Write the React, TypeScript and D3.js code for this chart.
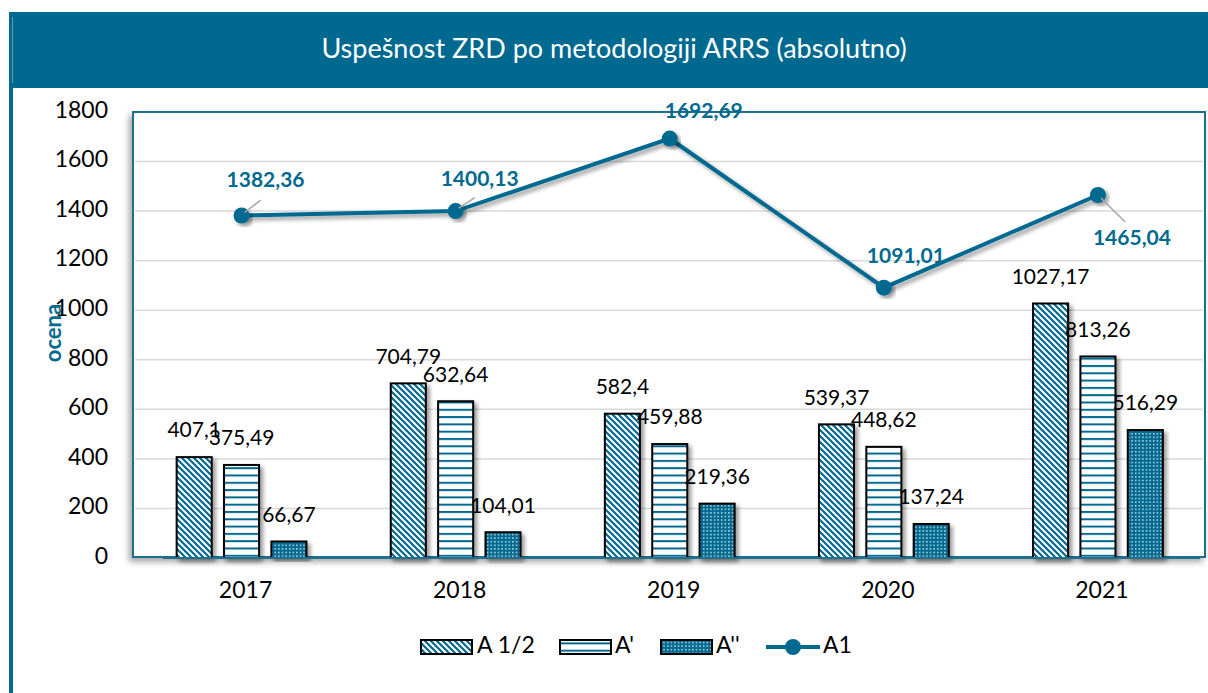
import React from "react";
import * as d3 from "d3";

const years = ["2017", "2018", "2019", "2020", "2021"];
const seriesNames = ["A 1/2", "A'", "A''"];
const valsA12 = [407.1, 704.79, 582.4, 539.37, 1027.17];
const valsAp = [375.49, 632.64, 459.88, 448.62, 813.26];
const valsApp = [66.67, 104.01, 219.36, 137.24, 516.29];
const valsA1 = [1382.36, 1400.13, 1692.69, 1091.01, 1465.04];
const yTicks = [0, 200, 400, 600, 800, 1000, 1200, 1400, 1600, 1800];
// label offsets (dx, dy) of A1 labels relative to their points
const a1LabelOffsets: [number, number][] = [
  [24, -34],
  [24, -30],
  [34, -26],
  [22, -30],
  [34, 45],
];
const a1Leaders = [true, true, false, false, true];

const TEAL = "#006990";
const FONT = "Lato, 'Noto Sans', sans-serif";

const fmt = (v: number) => String(v).replace(".", ",");

export default function App() {
  const W = 1208;
  const H = 693;
  const y = d3.scaleLinear().domain([0, 1800]).range([558, 112]);
  const x = d3.scaleBand<string>().domain(years).range([134.5, 1205]);
  const inner = d3
    .scaleBand<string>()
    .domain(seriesNames)
    .range([0, x.bandwidth()])
    .paddingInner(0.26)
    .paddingOuter(0.89);
  const series = [valsA12, valsAp, valsApp];
  const fills = ["url(#pDiag)", "url(#pHor)", "url(#pDot)"];
  const cx = (i: number) => (x(years[i]) as number) + x.bandwidth() / 2;
  const line = d3
    .line<number>()
    .x((_, i) => cx(i))
    .y((d) => y(d));

  return (
    <svg
      width={W}
      height={H}
      style={{ position: "absolute", left: 0, top: 0 }}
      fontFamily={FONT}
    >
      <defs>
        <pattern id="pDiag" patternUnits="userSpaceOnUse" width="6" height="6">
          <rect width="6" height="6" fill="#fff" />
          <path d="M0,0 L6,6 M-3,3 L3,9 M3,-3 L9,3" stroke={TEAL} strokeWidth="2.2" />
        </pattern>
        <pattern id="pHor" patternUnits="userSpaceOnUse" width="8" height="7.3">
          <rect width="8" height="7.3" fill="#fff" />
          <rect y="0" width="8" height="2" fill={TEAL} />
        </pattern>
        <pattern id="pDot" patternUnits="userSpaceOnUse" width="3.6" height="3.6">
          <rect width="3.6" height="3.6" fill={TEAL} />
          <rect x="1" y="1" width="1.4" height="1.4" fill="#dfeef3" />
        </pattern>
        <filter id="shadow" x="-20%" y="-20%" width="140%" height="140%">
          <feDropShadow dx="3" dy="3" stdDeviation="2.2" floodColor="#000" floodOpacity="0.4" />
        </filter>
        <filter id="shadowBox" x="-5%" y="-5%" width="110%" height="110%">
          <feDropShadow dx="-3" dy="4" stdDeviation="3" floodColor="#000" floodOpacity="0.35" />
        </filter>
      </defs>
      <rect width={W} height={H} fill="#fff" />
      {/* banner */}
      <rect x={9} y={12} width={1199} height={76} fill={TEAL} />
      <line x1={12.5} y1={17} x2={12.5} y2={83} stroke="#5aa0bb" strokeWidth={1} />
      <rect x={9} y={88} width={4} height={H - 88} fill={TEAL} />
      <text
        x={614}
        y={51}
        fill="#fff"
        fontSize={27}
        textAnchor="middle"
        dominantBaseline="middle"
      >
        Uspešnost ZRD po metodologiji ARRS (absolutno)
      </text>

      {/* plot area */}
      <rect
        x={133}
        y={112}
        width={1072}
        height={445}
        fill="#fff"
        stroke="#1f6f8e"
        strokeWidth={2}
        filter="url(#shadowBox)"
      />
      {yTicks
        .filter((t) => t > 0 && t < 1800)
        .map((t) => (
          <line key={t} x1={135} x2={1203} y1={y(t)} y2={y(t)} stroke="#d9d9d9" strokeWidth={1.5} />
        ))}
      {yTicks.map((t) => (
        <text
          key={t}
          x={108}
          y={y(t)}
          textAnchor="end"
          dominantBaseline="middle"
          fontSize={23}
          fill="#000"
        >
          {t}
        </text>
      ))}
      <text
        transform={`translate(55,333) rotate(-90)`}
        textAnchor="middle"
        dominantBaseline="middle"
        fontSize={22}
        fontWeight="bold"
        fill={TEAL}
      >
        ocena
      </text>

      {/* bars */}
      {series.map((vals, s) =>
        vals.map((v, i) => {
          const bx = (x(years[i]) as number) + (inner(seriesNames[s]) as number);
          return (
            <rect
              key={`${s}-${i}`}
              x={bx}
              y={y(v)}
              width={inner.bandwidth()}
              height={y(0) - y(v)}
              fill={fills[s]}
              stroke="#000"
              strokeWidth={2}
              filter="url(#shadow)"
            />
          );
        })
      )}
      <line x1={163} x2={1200} y1={558} y2={558} stroke="#1f6f8e" strokeWidth={2} />
      {series.map((vals, s) =>
        vals.map((v, i) => {
          const bx =
            (x(years[i]) as number) + (inner(seriesNames[s]) as number) + inner.bandwidth() / 2;
          return (
            <text
              key={`l${s}-${i}`}
              x={bx}
              y={y(v) - 25}
              textAnchor="middle"
              dominantBaseline="middle"
              fontSize={21}
              fill="#000"
            >
              {fmt(v)}
            </text>
          );
        })
      )}

      {/* line series */}
      <path
        d={line(valsA1) || ""}
        fill="none"
        stroke={TEAL}
        strokeWidth={4}
        filter="url(#shadow)"
      />
      {valsA1.map((v, i) => (
        <circle key={i} cx={cx(i)} cy={y(v)} r={8} fill={TEAL} filter="url(#shadow)" />
      ))}
      {valsA1.map((v, i) => {
        const [dx, dy] = a1LabelOffsets[i];
        const px = cx(i);
        const py = y(v);
        return (
          <g key={`a${i}`}>
            {a1Leaders[i] && (
              <line
                x1={px + 3}
                y1={py + (dy > 0 ? 3 : -3)}
                x2={px + dx * 0.8}
                y2={py + (dy > 0 ? dy * 0.6 : dy * 0.45)}
                stroke="#a6a6a6"
                strokeWidth={1.5}
              />
            )}
            <text
              x={px + dx}
              y={py + dy}
              textAnchor="middle"
              dominantBaseline="middle"
              fontSize={21}
              fontWeight="bold"
              fill={TEAL}
            >
              {fmt(v)}
            </text>
          </g>
        );
      })}

      {/* x labels */}
      {years.map((yr, i) => (
        <text
          key={yr}
          x={cx(i) + 4}
          y={592}
          textAnchor="middle"
          dominantBaseline="middle"
          fontSize={23}
          fill="#000"
        >
          {yr}
        </text>
      ))}

      {/* legend */}
      {[
        { x0: 421, tx: 477, f: fills[0], name: seriesNames[0] },
        { x0: 560, tx: 615, f: fills[1], name: seriesNames[1] },
        { x0: 661, tx: 716, f: fills[2], name: seriesNames[2] },
      ].map((l) => (
        <g key={l.name}>
          <rect x={l.x0} y={640} width={51} height={14} fill={l.f} stroke="#000" strokeWidth={2} />
          <text x={l.tx} y={647} dominantBaseline="middle" fontSize={23} fill="#000">
            {l.name}
          </text>
        </g>
      ))}
      <line x1={766} x2={820} y1={647} y2={647} stroke={TEAL} strokeWidth={4} />
      <circle cx={793} cy={647} r={8} fill={TEAL} />
      <text x={823} y={647} dominantBaseline="middle" fontSize={23} fill="#000">
        A1
      </text>
    </svg>
  );
}
